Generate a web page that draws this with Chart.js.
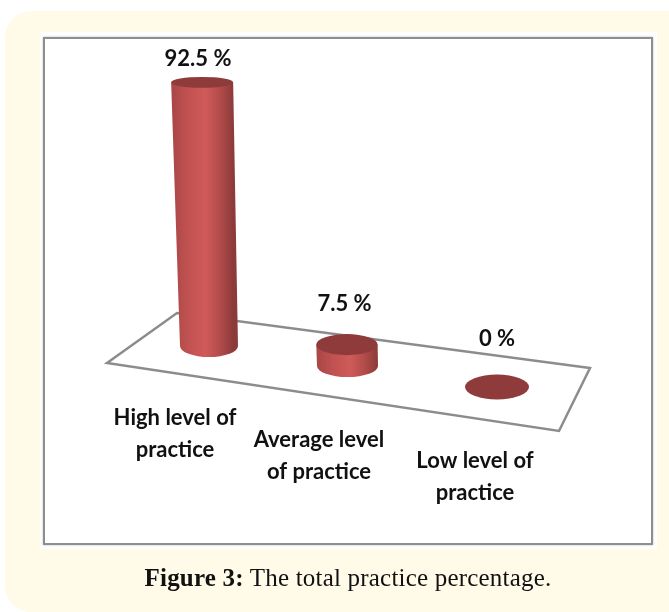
<!DOCTYPE html>
<html>
<head>
<meta charset="utf-8">
<title>The total practice percentage</title>
<script src="https://cdn.jsdelivr.net/npm/chart.js@4"></script>
<style>
  html, body { margin: 0; padding: 0; background: #fff; width: 669px; height: 612px; overflow: hidden; }
  .painel { position: absolute; left: 5px; top: 11px; width: 690px; height: 601px; background: #fffbe8; border-radius: 26px; }
  .fundo { position: absolute; left: 40px; top: 32px; width: 617px; height: 517px; background: #fff; }
  .moldura { position: absolute; left: 43px; top: 37px; width: 606px; height: 504px; border: 2.5px solid #8e8e8e; box-shadow: 0 0 2px #bbb; }
  #grafico { position: absolute; left: 0; top: 0; }
  .legenda { position: absolute; left: 0; top: 564px; width: 696px; text-align: center; font: 25px "Liberation Serif", serif; letter-spacing: 0.2px; color: #111; }
</style>
</head>
<body>
<div class="painel"></div>
<div class="fundo"></div>
<div class="moldura"></div>
<canvas id="grafico" width="669" height="612"></canvas>
<div class="legenda"><b>Figure 3:</b> The total practice percentage.</div>

<script>
const categorias = [['High level of', 'practice'], ['Average level', 'of practice'], ['Low level of', 'practice']];
const valores = [92.5, 7.5, 0];
const rotulos = ['92.5 %', '7.5 %', '0 %'];

// piso em perspectiva
const piso = [[107, 363], [177, 313], [590, 368], [559, 431]];

// ajustes de desenho de cada coluna sobre o piso
const desvioX = [0, -5.5, 0];
const desvioBase = [0, 20, 41];
const raioX = [29, 30.5, 32];
const raioY = [11, 11, 12.5];
const rotuloDy = [23, 41, 48];
const rotuloDx = [-11, -3, 0];
const eixoDx = [-34, -34, -22];
const eixoDy = [72, 74, 74];

function cilindro(ctx, i, bar) {
  const h = bar.base - bar.y;
  const xb = bar.x + desvioX[i];
  const yb = bar.base + desvioBase[i];
  const xt = xb - h * 0.026;
  const yt = yb - h;
  const rb = raioX[i];
  const rt = rb + h * 0.0076;
  const ryb = raioY[i];
  const ryt = ryb - h * 0.021;

  if (h > 0) {
    const grad = ctx.createLinearGradient(xt - rt, 0, xt + rt, 0);
    grad.addColorStop(0, '#a84646');
    grad.addColorStop(0.25, '#bf5150');
    grad.addColorStop(0.55, '#d05b59');
    grad.addColorStop(0.8, '#b04b4a');
    grad.addColorStop(1, '#8c3a3a');
    ctx.fillStyle = grad;
    ctx.beginPath();
    ctx.moveTo(xt - rt, yt);
    ctx.lineTo(xb - rb, yb);
    ctx.ellipse(xb, yb, rb, ryb, 0, Math.PI, 0, true);
    ctx.lineTo(xt + rt, yt);
    ctx.closePath();
    ctx.fill();
  }

  ctx.fillStyle = '#8f3b3b';
  ctx.beginPath();
  ctx.ellipse(xt, yt, rt, ryt, 0, 0, Math.PI * 2);
  ctx.fill();
}

const cena3d = {
  id: 'cena3d',
  beforeDatasetsDraw(chart) {
    const ctx = chart.ctx;
    ctx.save();
    ctx.beginPath();
    piso.forEach((p, i) => i ? ctx.lineTo(p[0], p[1]) : ctx.moveTo(p[0], p[1]));
    ctx.closePath();
    ctx.fillStyle = '#fff';
    ctx.fill();
    ctx.strokeStyle = '#8c8c8c';
    ctx.lineWidth = 2.5;
    ctx.lineJoin = 'miter';
    ctx.stroke();

    chart.getDatasetMeta(0).data.forEach((bar, i) => cilindro(ctx, i, bar));
    ctx.restore();
  },
  afterDatasetsDraw(chart) {
    const ctx = chart.ctx;
    const xScale = chart.scales.x;
    ctx.save();
    ctx.fillStyle = '#111';
    ctx.textAlign = 'center';
    ctx.textBaseline = 'middle';
    ctx.font = 'bold 22px Lato';
    chart.getDatasetMeta(0).data.forEach((bar, i) => {
      const h = bar.base - bar.y;
      const topo = bar.base + desvioBase[i] - h;
      ctx.fillText(rotulos[i], bar.x + desvioX[i] + rotuloDx[i], topo - rotuloDy[i]);

      const linhas = xScale.getLabelForValue(i);
      const x = xScale.getPixelForValue(i) + eixoDx[i];
      const y = chart.chartArea.bottom + desvioBase[i] + eixoDy[i];
      linhas.forEach((t, k) => ctx.fillText(t, x, y + k * 32));
    });
    ctx.restore();
  }
};

new Chart(document.getElementById('grafico').getContext('2d'), {
  type: 'bar',
  data: {
    labels: categorias,
    datasets: [{
      data: valores,
      backgroundColor: 'rgba(0,0,0,0)'
    }]
  },
  options: {
    responsive: false,
    animation: false,
    layout: {
      padding: { left: 137, right: 100, top: 61, bottom: 266 }
    },
    plugins: {
      legend: { display: false },
      tooltip: { enabled: false }
    },
    scales: {
      x: { display: false },
      y: { display: false, min: 0, max: 100 }
    }
  },
  plugins: [cena3d]
});
</script>
</body>
</html>
